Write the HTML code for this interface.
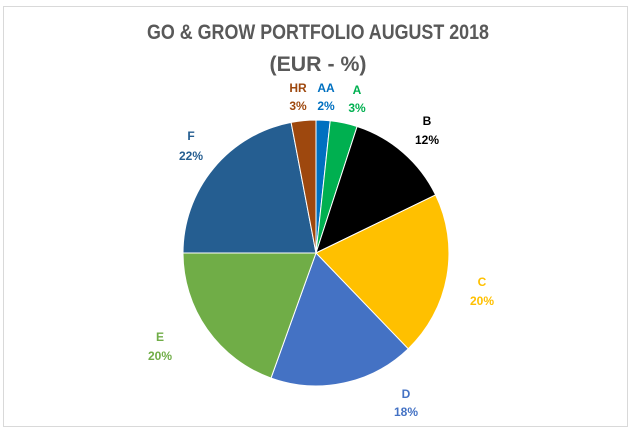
<!DOCTYPE html>
<html><head><meta charset="utf-8"><style>
html,body{margin:0;padding:0;background:#fff;}
svg{display:block;font-family:"Liberation Sans",sans-serif;font-weight:bold;}
</style></head><body>
<svg width="635" height="431" viewBox="0 0 635 431">
<rect x="3.5" y="6.5" width="624" height="420" fill="#fff" stroke="#d9d9d9"/>
<text x="318" y="39" font-size="21" fill="#595959" text-anchor="middle" textLength="342" lengthAdjust="spacingAndGlyphs">GO &amp; GROW PORTFOLIO AUGUST 2018</text>
<text x="318" y="71" font-size="21" fill="#595959" text-anchor="middle" textLength="97" lengthAdjust="spacingAndGlyphs">(EUR - %)</text>
<g stroke="#fff" stroke-width="1">
<path d="M316,253 L316,120 A133,133 0 0 1 330.2,120.8 Z" fill="#0070C0"/>
<path d="M316,253 L330.2,120.8 A133,133 0 0 1 357.1,126.5 Z" fill="#00B050"/>
<path d="M316,253 L357.1,126.5 A133,133 0 0 1 435.6,194.9 Z" fill="#000000"/>
<path d="M316,253 L435.6,194.9 A133,133 0 0 1 408.2,348.8 Z" fill="#FFC000"/>
<path d="M316,253 L408.2,348.8 A133,133 0 0 1 271.0,378.1 Z" fill="#4472C4"/>
<path d="M316,253 L271.0,378.1 A133,133 0 0 1 183,253 Z" fill="#70AD47"/>
<path d="M316,253 L183,253 A133,133 0 0 1 291.1,122.4 Z" fill="#255E91"/>
<path d="M316,253 L291.1,122.4 A133,133 0 0 1 316,120 Z" fill="#9E480E"/>
</g>
<g font-size="12" text-anchor="middle">
<text x="298" y="92" fill="#9E480E">HR</text><text x="298" y="110" fill="#9E480E">3%</text>
<text x="326" y="92" fill="#0070C0">AA</text><text x="326" y="110" fill="#0070C0">2%</text>
<text x="357" y="94" fill="#00B050">A</text><text x="357" y="112" fill="#00B050">3%</text>
<text x="427" y="125" fill="#000">B</text><text x="427" y="144" fill="#000">12%</text>
<text x="482" y="286" fill="#FFC000">C</text><text x="482" y="305" fill="#FFC000">20%</text>
<text x="406" y="398" fill="#4472C4">D</text><text x="406" y="416" fill="#4472C4">18%</text>
<text x="160" y="341" fill="#70AD47">E</text><text x="160" y="360" fill="#70AD47">20%</text>
<text x="191" y="140" fill="#255E91">F</text><text x="191" y="160" fill="#255E91">22%</text>
</g>
</svg>
</body></html>
